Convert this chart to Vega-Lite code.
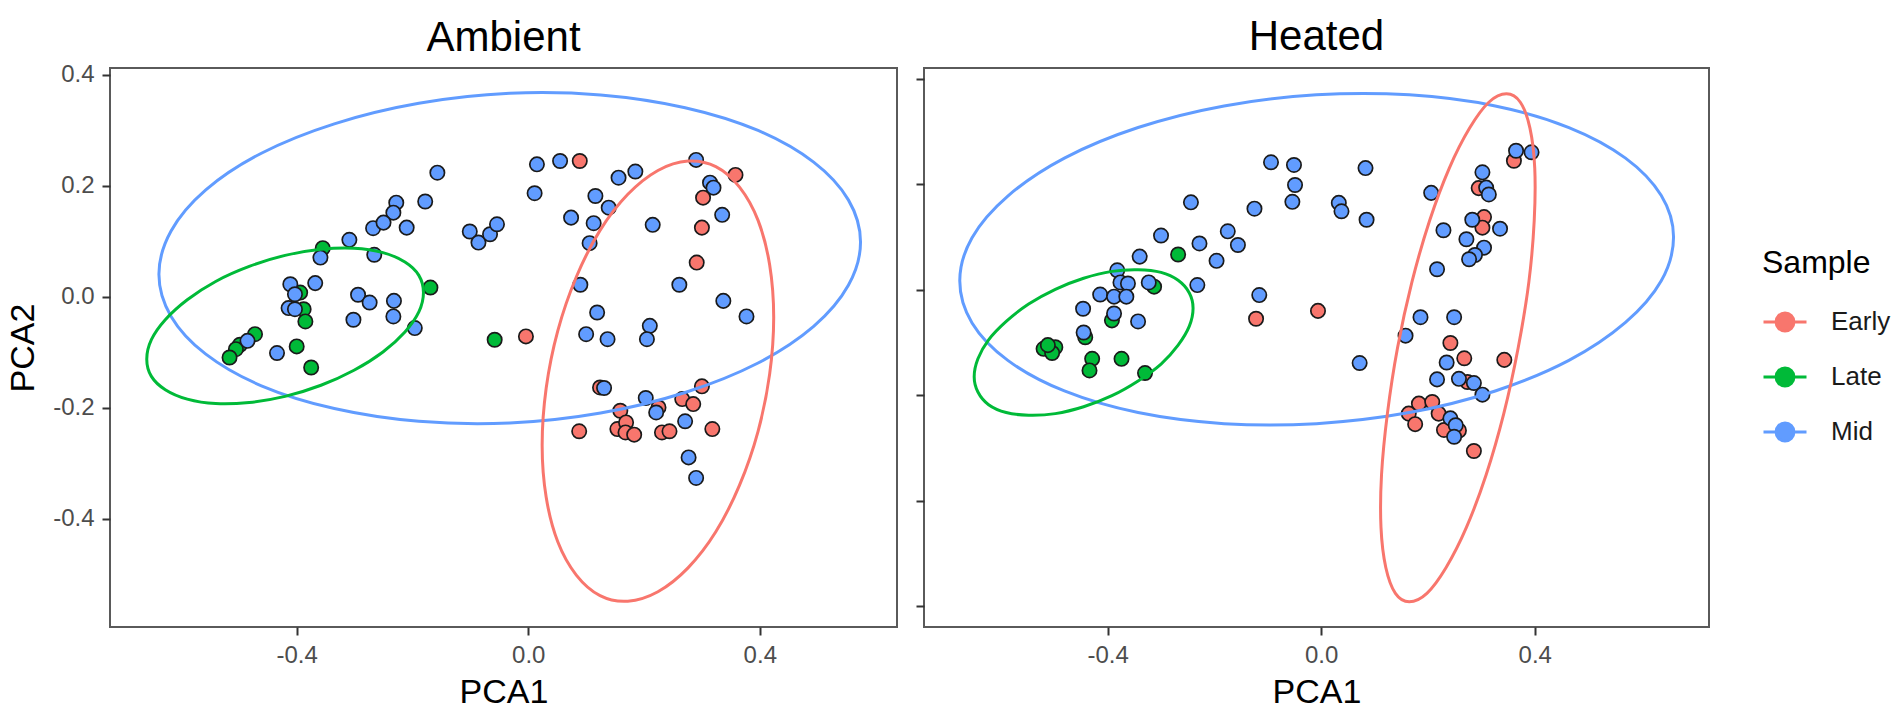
{
  "$schema": "https://vega.github.io/schema/vega-lite/v6.json",
  "padding": {"left": 5, "top": 15, "right": 5, "bottom": 0},
  "spacing": 16,
  "config": {
    "font": "Liberation Sans",
    "view": {"stroke": "#5a5a5a", "strokeWidth": 2},
    "axis": {
      "grid": false, "domain": false,
      "tickColor": "#333333", "tickWidth": 2, "tickSize": 8,
      "labelFont": "Liberation Sans", "labelFontSize": 24, "labelColor": "#4d4d4d", "labelPadding": 8,
      "titleFont": "Liberation Sans", "titleFontSize": 34, "titleFontWeight": "normal", "titleColor": "#000000"
    },
    "title": {"font": "Liberation Sans", "fontSize": 42, "fontWeight": "normal", "color": "#000000", "anchor": "middle", "baseline": "alphabetic", "frame": "group"}
  },
  "datasets": {
    "pts": [
      {"cond": "Ambient", "Sample": "Early", "PCA1": 0.089, "PCA2": 0.245},
      {"cond": "Ambient", "Sample": "Early", "PCA1": 0.358, "PCA2": 0.220},
      {"cond": "Ambient", "Sample": "Early", "PCA1": 0.302, "PCA2": 0.179},
      {"cond": "Ambient", "Sample": "Early", "PCA1": 0.300, "PCA2": 0.125},
      {"cond": "Ambient", "Sample": "Early", "PCA1": 0.291, "PCA2": 0.062},
      {"cond": "Ambient", "Sample": "Early", "PCA1": -0.004, "PCA2": -0.071},
      {"cond": "Ambient", "Sample": "Early", "PCA1": 0.124, "PCA2": -0.163},
      {"cond": "Ambient", "Sample": "Early", "PCA1": 0.225, "PCA2": -0.199},
      {"cond": "Ambient", "Sample": "Early", "PCA1": 0.159, "PCA2": -0.205},
      {"cond": "Ambient", "Sample": "Early", "PCA1": 0.266, "PCA2": -0.184},
      {"cond": "Ambient", "Sample": "Early", "PCA1": 0.285, "PCA2": -0.193},
      {"cond": "Ambient", "Sample": "Early", "PCA1": 0.300, "PCA2": -0.161},
      {"cond": "Ambient", "Sample": "Early", "PCA1": 0.088, "PCA2": -0.242},
      {"cond": "Ambient", "Sample": "Early", "PCA1": 0.154, "PCA2": -0.238},
      {"cond": "Ambient", "Sample": "Early", "PCA1": 0.169, "PCA2": -0.226},
      {"cond": "Ambient", "Sample": "Early", "PCA1": 0.168, "PCA2": -0.244},
      {"cond": "Ambient", "Sample": "Early", "PCA1": 0.183, "PCA2": -0.248},
      {"cond": "Ambient", "Sample": "Early", "PCA1": 0.231, "PCA2": -0.244},
      {"cond": "Ambient", "Sample": "Early", "PCA1": 0.244, "PCA2": -0.242},
      {"cond": "Ambient", "Sample": "Early", "PCA1": 0.318, "PCA2": -0.238},
      {"cond": "Ambient", "Sample": "Late", "PCA1": -0.355, "PCA2": 0.088},
      {"cond": "Ambient", "Sample": "Late", "PCA1": -0.394, "PCA2": 0.008},
      {"cond": "Ambient", "Sample": "Late", "PCA1": -0.388, "PCA2": -0.022},
      {"cond": "Ambient", "Sample": "Late", "PCA1": -0.385, "PCA2": -0.044},
      {"cond": "Ambient", "Sample": "Late", "PCA1": -0.472, "PCA2": -0.067},
      {"cond": "Ambient", "Sample": "Late", "PCA1": -0.498, "PCA2": -0.086},
      {"cond": "Ambient", "Sample": "Late", "PCA1": -0.505, "PCA2": -0.094},
      {"cond": "Ambient", "Sample": "Late", "PCA1": -0.516, "PCA2": -0.109},
      {"cond": "Ambient", "Sample": "Late", "PCA1": -0.400, "PCA2": -0.089},
      {"cond": "Ambient", "Sample": "Late", "PCA1": -0.375, "PCA2": -0.127},
      {"cond": "Ambient", "Sample": "Late", "PCA1": -0.169, "PCA2": 0.017},
      {"cond": "Ambient", "Sample": "Late", "PCA1": -0.058, "PCA2": -0.077},
      {"cond": "Ambient", "Sample": "Mid", "PCA1": -0.359, "PCA2": 0.071},
      {"cond": "Ambient", "Sample": "Mid", "PCA1": -0.309, "PCA2": 0.103},
      {"cond": "Ambient", "Sample": "Mid", "PCA1": -0.268, "PCA2": 0.124},
      {"cond": "Ambient", "Sample": "Mid", "PCA1": -0.266, "PCA2": 0.076},
      {"cond": "Ambient", "Sample": "Mid", "PCA1": -0.411, "PCA2": 0.023},
      {"cond": "Ambient", "Sample": "Mid", "PCA1": -0.368, "PCA2": 0.025},
      {"cond": "Ambient", "Sample": "Mid", "PCA1": -0.294, "PCA2": 0.004},
      {"cond": "Ambient", "Sample": "Mid", "PCA1": -0.403, "PCA2": 0.005},
      {"cond": "Ambient", "Sample": "Mid", "PCA1": -0.274, "PCA2": -0.010},
      {"cond": "Ambient", "Sample": "Mid", "PCA1": -0.414, "PCA2": -0.020},
      {"cond": "Ambient", "Sample": "Mid", "PCA1": -0.403, "PCA2": -0.022},
      {"cond": "Ambient", "Sample": "Mid", "PCA1": -0.302, "PCA2": -0.041},
      {"cond": "Ambient", "Sample": "Mid", "PCA1": -0.485, "PCA2": -0.079},
      {"cond": "Ambient", "Sample": "Mid", "PCA1": -0.434, "PCA2": -0.101},
      {"cond": "Ambient", "Sample": "Mid", "PCA1": -0.157, "PCA2": 0.224},
      {"cond": "Ambient", "Sample": "Mid", "PCA1": -0.228, "PCA2": 0.170},
      {"cond": "Ambient", "Sample": "Mid", "PCA1": -0.233, "PCA2": 0.152},
      {"cond": "Ambient", "Sample": "Mid", "PCA1": -0.250, "PCA2": 0.134},
      {"cond": "Ambient", "Sample": "Mid", "PCA1": -0.178, "PCA2": 0.172},
      {"cond": "Ambient", "Sample": "Mid", "PCA1": -0.210, "PCA2": 0.125},
      {"cond": "Ambient", "Sample": "Mid", "PCA1": -0.101, "PCA2": 0.118},
      {"cond": "Ambient", "Sample": "Mid", "PCA1": -0.086, "PCA2": 0.098},
      {"cond": "Ambient", "Sample": "Mid", "PCA1": -0.066, "PCA2": 0.113},
      {"cond": "Ambient", "Sample": "Mid", "PCA1": -0.054, "PCA2": 0.131},
      {"cond": "Ambient", "Sample": "Mid", "PCA1": 0.015, "PCA2": 0.239},
      {"cond": "Ambient", "Sample": "Mid", "PCA1": 0.055, "PCA2": 0.245},
      {"cond": "Ambient", "Sample": "Mid", "PCA1": 0.011, "PCA2": 0.187},
      {"cond": "Ambient", "Sample": "Mid", "PCA1": 0.156, "PCA2": 0.215},
      {"cond": "Ambient", "Sample": "Mid", "PCA1": 0.185, "PCA2": 0.226},
      {"cond": "Ambient", "Sample": "Mid", "PCA1": 0.116, "PCA2": 0.182},
      {"cond": "Ambient", "Sample": "Mid", "PCA1": 0.139, "PCA2": 0.161},
      {"cond": "Ambient", "Sample": "Mid", "PCA1": 0.074, "PCA2": 0.143},
      {"cond": "Ambient", "Sample": "Mid", "PCA1": 0.113, "PCA2": 0.133},
      {"cond": "Ambient", "Sample": "Mid", "PCA1": 0.106, "PCA2": 0.097},
      {"cond": "Ambient", "Sample": "Mid", "PCA1": 0.290, "PCA2": 0.247},
      {"cond": "Ambient", "Sample": "Mid", "PCA1": 0.314, "PCA2": 0.206},
      {"cond": "Ambient", "Sample": "Mid", "PCA1": 0.320, "PCA2": 0.197},
      {"cond": "Ambient", "Sample": "Mid", "PCA1": 0.335, "PCA2": 0.148},
      {"cond": "Ambient", "Sample": "Mid", "PCA1": 0.215, "PCA2": 0.130},
      {"cond": "Ambient", "Sample": "Mid", "PCA1": 0.261, "PCA2": 0.022},
      {"cond": "Ambient", "Sample": "Mid", "PCA1": 0.090, "PCA2": 0.022},
      {"cond": "Ambient", "Sample": "Mid", "PCA1": 0.337, "PCA2": -0.007},
      {"cond": "Ambient", "Sample": "Mid", "PCA1": 0.377, "PCA2": -0.035},
      {"cond": "Ambient", "Sample": "Mid", "PCA1": 0.119, "PCA2": -0.028},
      {"cond": "Ambient", "Sample": "Mid", "PCA1": -0.232, "PCA2": -0.007},
      {"cond": "Ambient", "Sample": "Mid", "PCA1": -0.233, "PCA2": -0.035},
      {"cond": "Ambient", "Sample": "Mid", "PCA1": -0.196, "PCA2": -0.056},
      {"cond": "Ambient", "Sample": "Mid", "PCA1": 0.210, "PCA2": -0.052},
      {"cond": "Ambient", "Sample": "Mid", "PCA1": 0.100, "PCA2": -0.067},
      {"cond": "Ambient", "Sample": "Mid", "PCA1": 0.137, "PCA2": -0.076},
      {"cond": "Ambient", "Sample": "Mid", "PCA1": 0.205, "PCA2": -0.076},
      {"cond": "Ambient", "Sample": "Mid", "PCA1": 0.131, "PCA2": -0.164},
      {"cond": "Ambient", "Sample": "Mid", "PCA1": 0.203, "PCA2": -0.182},
      {"cond": "Ambient", "Sample": "Mid", "PCA1": 0.221, "PCA2": -0.208},
      {"cond": "Ambient", "Sample": "Mid", "PCA1": 0.271, "PCA2": -0.224},
      {"cond": "Ambient", "Sample": "Mid", "PCA1": 0.277, "PCA2": -0.289},
      {"cond": "Ambient", "Sample": "Mid", "PCA1": 0.290, "PCA2": -0.326},
      {"cond": "Heated", "Sample": "Early", "PCA1": -0.122, "PCA2": -0.055},
      {"cond": "Heated", "Sample": "Early", "PCA1": -0.006, "PCA2": -0.040},
      {"cond": "Heated", "Sample": "Early", "PCA1": 0.361, "PCA2": 0.245},
      {"cond": "Heated", "Sample": "Early", "PCA1": 0.295, "PCA2": 0.193},
      {"cond": "Heated", "Sample": "Early", "PCA1": 0.305, "PCA2": 0.138},
      {"cond": "Heated", "Sample": "Early", "PCA1": 0.302, "PCA2": 0.118},
      {"cond": "Heated", "Sample": "Early", "PCA1": 0.242, "PCA2": -0.101},
      {"cond": "Heated", "Sample": "Early", "PCA1": 0.268, "PCA2": -0.130},
      {"cond": "Heated", "Sample": "Early", "PCA1": 0.343, "PCA2": -0.133},
      {"cond": "Heated", "Sample": "Early", "PCA1": 0.274, "PCA2": -0.175},
      {"cond": "Heated", "Sample": "Early", "PCA1": 0.183, "PCA2": -0.216},
      {"cond": "Heated", "Sample": "Early", "PCA1": 0.208, "PCA2": -0.213},
      {"cond": "Heated", "Sample": "Early", "PCA1": 0.164, "PCA2": -0.235},
      {"cond": "Heated", "Sample": "Early", "PCA1": 0.176, "PCA2": -0.255},
      {"cond": "Heated", "Sample": "Early", "PCA1": 0.220, "PCA2": -0.235},
      {"cond": "Heated", "Sample": "Early", "PCA1": 0.230, "PCA2": -0.266},
      {"cond": "Heated", "Sample": "Early", "PCA1": 0.258, "PCA2": -0.267},
      {"cond": "Heated", "Sample": "Early", "PCA1": 0.286, "PCA2": -0.306},
      {"cond": "Heated", "Sample": "Late", "PCA1": -0.268, "PCA2": 0.067},
      {"cond": "Heated", "Sample": "Late", "PCA1": -0.313, "PCA2": 0.006},
      {"cond": "Heated", "Sample": "Late", "PCA1": -0.392, "PCA2": -0.058},
      {"cond": "Heated", "Sample": "Late", "PCA1": -0.442, "PCA2": -0.090},
      {"cond": "Heated", "Sample": "Late", "PCA1": -0.520, "PCA2": -0.112},
      {"cond": "Heated", "Sample": "Late", "PCA1": -0.498, "PCA2": -0.109},
      {"cond": "Heated", "Sample": "Late", "PCA1": -0.504, "PCA2": -0.120},
      {"cond": "Heated", "Sample": "Late", "PCA1": -0.512, "PCA2": -0.105},
      {"cond": "Heated", "Sample": "Late", "PCA1": -0.429, "PCA2": -0.131},
      {"cond": "Heated", "Sample": "Late", "PCA1": -0.434, "PCA2": -0.153},
      {"cond": "Heated", "Sample": "Late", "PCA1": -0.374, "PCA2": -0.131},
      {"cond": "Heated", "Sample": "Late", "PCA1": -0.330, "PCA2": -0.158},
      {"cond": "Heated", "Sample": "Mid", "PCA1": -0.094, "PCA2": 0.242},
      {"cond": "Heated", "Sample": "Mid", "PCA1": -0.051, "PCA2": 0.237},
      {"cond": "Heated", "Sample": "Mid", "PCA1": -0.049, "PCA2": 0.199},
      {"cond": "Heated", "Sample": "Mid", "PCA1": -0.054, "PCA2": 0.167},
      {"cond": "Heated", "Sample": "Mid", "PCA1": -0.244, "PCA2": 0.166},
      {"cond": "Heated", "Sample": "Mid", "PCA1": -0.125, "PCA2": 0.154},
      {"cond": "Heated", "Sample": "Mid", "PCA1": -0.300, "PCA2": 0.103},
      {"cond": "Heated", "Sample": "Mid", "PCA1": -0.175, "PCA2": 0.111},
      {"cond": "Heated", "Sample": "Mid", "PCA1": -0.228, "PCA2": 0.088},
      {"cond": "Heated", "Sample": "Mid", "PCA1": -0.156, "PCA2": 0.085},
      {"cond": "Heated", "Sample": "Mid", "PCA1": -0.340, "PCA2": 0.063},
      {"cond": "Heated", "Sample": "Mid", "PCA1": -0.196, "PCA2": 0.055},
      {"cond": "Heated", "Sample": "Mid", "PCA1": -0.382, "PCA2": 0.037},
      {"cond": "Heated", "Sample": "Mid", "PCA1": -0.376, "PCA2": 0.014},
      {"cond": "Heated", "Sample": "Mid", "PCA1": -0.362, "PCA2": 0.012},
      {"cond": "Heated", "Sample": "Mid", "PCA1": -0.323, "PCA2": 0.014},
      {"cond": "Heated", "Sample": "Mid", "PCA1": -0.232, "PCA2": 0.009},
      {"cond": "Heated", "Sample": "Mid", "PCA1": -0.414, "PCA2": -0.009},
      {"cond": "Heated", "Sample": "Mid", "PCA1": -0.388, "PCA2": -0.013},
      {"cond": "Heated", "Sample": "Mid", "PCA1": -0.365, "PCA2": -0.013},
      {"cond": "Heated", "Sample": "Mid", "PCA1": -0.446, "PCA2": -0.036},
      {"cond": "Heated", "Sample": "Mid", "PCA1": -0.388, "PCA2": -0.045},
      {"cond": "Heated", "Sample": "Mid", "PCA1": -0.343, "PCA2": -0.060},
      {"cond": "Heated", "Sample": "Mid", "PCA1": -0.445, "PCA2": -0.081},
      {"cond": "Heated", "Sample": "Mid", "PCA1": -0.116, "PCA2": -0.010},
      {"cond": "Heated", "Sample": "Mid", "PCA1": 0.083, "PCA2": 0.231},
      {"cond": "Heated", "Sample": "Mid", "PCA1": 0.206, "PCA2": 0.184},
      {"cond": "Heated", "Sample": "Mid", "PCA1": 0.033, "PCA2": 0.165},
      {"cond": "Heated", "Sample": "Mid", "PCA1": 0.038, "PCA2": 0.149},
      {"cond": "Heated", "Sample": "Mid", "PCA1": 0.085, "PCA2": 0.133},
      {"cond": "Heated", "Sample": "Mid", "PCA1": 0.365, "PCA2": 0.264},
      {"cond": "Heated", "Sample": "Mid", "PCA1": 0.394, "PCA2": 0.261},
      {"cond": "Heated", "Sample": "Mid", "PCA1": 0.302, "PCA2": 0.223},
      {"cond": "Heated", "Sample": "Mid", "PCA1": 0.309, "PCA2": 0.194},
      {"cond": "Heated", "Sample": "Mid", "PCA1": 0.314, "PCA2": 0.181},
      {"cond": "Heated", "Sample": "Mid", "PCA1": 0.283, "PCA2": 0.133},
      {"cond": "Heated", "Sample": "Mid", "PCA1": 0.335, "PCA2": 0.116},
      {"cond": "Heated", "Sample": "Mid", "PCA1": 0.229, "PCA2": 0.113},
      {"cond": "Heated", "Sample": "Mid", "PCA1": 0.272, "PCA2": 0.096},
      {"cond": "Heated", "Sample": "Mid", "PCA1": 0.305, "PCA2": 0.080},
      {"cond": "Heated", "Sample": "Mid", "PCA1": 0.288, "PCA2": 0.066},
      {"cond": "Heated", "Sample": "Mid", "PCA1": 0.277, "PCA2": 0.058},
      {"cond": "Heated", "Sample": "Mid", "PCA1": 0.217, "PCA2": 0.039},
      {"cond": "Heated", "Sample": "Mid", "PCA1": 0.186, "PCA2": -0.052},
      {"cond": "Heated", "Sample": "Mid", "PCA1": 0.249, "PCA2": -0.052},
      {"cond": "Heated", "Sample": "Mid", "PCA1": 0.158, "PCA2": -0.087},
      {"cond": "Heated", "Sample": "Mid", "PCA1": 0.072, "PCA2": -0.139},
      {"cond": "Heated", "Sample": "Mid", "PCA1": 0.235, "PCA2": -0.138},
      {"cond": "Heated", "Sample": "Mid", "PCA1": 0.217, "PCA2": -0.170},
      {"cond": "Heated", "Sample": "Mid", "PCA1": 0.258, "PCA2": -0.169},
      {"cond": "Heated", "Sample": "Mid", "PCA1": 0.286, "PCA2": -0.177},
      {"cond": "Heated", "Sample": "Mid", "PCA1": 0.302, "PCA2": -0.199},
      {"cond": "Heated", "Sample": "Mid", "PCA1": 0.242, "PCA2": -0.244},
      {"cond": "Heated", "Sample": "Mid", "PCA1": 0.252, "PCA2": -0.257},
      {"cond": "Heated", "Sample": "Mid", "PCA1": 0.249, "PCA2": -0.279}
    ],
    "ell": [
      {"cond": "Ambient", "Sample": "Mid", "i": 0, "PCA1": 0.574, "PCA2": 0.099},
      {"cond": "Ambient", "Sample": "Mid", "i": 1, "PCA1": 0.553, "PCA2": 0.175},
      {"cond": "Ambient", "Sample": "Mid", "i": 2, "PCA1": 0.493, "PCA2": 0.243},
      {"cond": "Ambient", "Sample": "Mid", "i": 3, "PCA1": 0.397, "PCA2": 0.300},
      {"cond": "Ambient", "Sample": "Mid", "i": 4, "PCA1": 0.271, "PCA2": 0.341},
      {"cond": "Ambient", "Sample": "Mid", "i": 5, "PCA1": 0.125, "PCA2": 0.364},
      {"cond": "Ambient", "Sample": "Mid", "i": 6, "PCA1": -0.032, "PCA2": 0.367},
      {"cond": "Ambient", "Sample": "Mid", "i": 7, "PCA1": -0.189, "PCA2": 0.349},
      {"cond": "Ambient", "Sample": "Mid", "i": 8, "PCA1": -0.335, "PCA2": 0.312},
      {"cond": "Ambient", "Sample": "Mid", "i": 9, "PCA1": -0.461, "PCA2": 0.259},
      {"cond": "Ambient", "Sample": "Mid", "i": 10, "PCA1": -0.557, "PCA2": 0.193},
      {"cond": "Ambient", "Sample": "Mid", "i": 11, "PCA1": -0.617, "PCA2": 0.119},
      {"cond": "Ambient", "Sample": "Mid", "i": 12, "PCA1": -0.638, "PCA2": 0.041},
      {"cond": "Ambient", "Sample": "Mid", "i": 13, "PCA1": -0.617, "PCA2": -0.035},
      {"cond": "Ambient", "Sample": "Mid", "i": 14, "PCA1": -0.557, "PCA2": -0.103},
      {"cond": "Ambient", "Sample": "Mid", "i": 15, "PCA1": -0.461, "PCA2": -0.160},
      {"cond": "Ambient", "Sample": "Mid", "i": 16, "PCA1": -0.335, "PCA2": -0.201},
      {"cond": "Ambient", "Sample": "Mid", "i": 17, "PCA1": -0.189, "PCA2": -0.224},
      {"cond": "Ambient", "Sample": "Mid", "i": 18, "PCA1": -0.032, "PCA2": -0.227},
      {"cond": "Ambient", "Sample": "Mid", "i": 19, "PCA1": 0.125, "PCA2": -0.209},
      {"cond": "Ambient", "Sample": "Mid", "i": 20, "PCA1": 0.271, "PCA2": -0.172},
      {"cond": "Ambient", "Sample": "Mid", "i": 21, "PCA1": 0.397, "PCA2": -0.119},
      {"cond": "Ambient", "Sample": "Mid", "i": 22, "PCA1": 0.493, "PCA2": -0.053},
      {"cond": "Ambient", "Sample": "Mid", "i": 23, "PCA1": 0.553, "PCA2": 0.021},
      {"cond": "Ambient", "Sample": "Late", "i": 0, "PCA1": -0.181, "PCA2": 0.008},
      {"cond": "Ambient", "Sample": "Late", "i": 1, "PCA1": -0.189, "PCA2": 0.039},
      {"cond": "Ambient", "Sample": "Late", "i": 2, "PCA1": -0.213, "PCA2": 0.063},
      {"cond": "Ambient", "Sample": "Late", "i": 3, "PCA1": -0.251, "PCA2": 0.080},
      {"cond": "Ambient", "Sample": "Late", "i": 4, "PCA1": -0.301, "PCA2": 0.088},
      {"cond": "Ambient", "Sample": "Late", "i": 5, "PCA1": -0.358, "PCA2": 0.086},
      {"cond": "Ambient", "Sample": "Late", "i": 6, "PCA1": -0.420, "PCA2": 0.075},
      {"cond": "Ambient", "Sample": "Late", "i": 7, "PCA1": -0.482, "PCA2": 0.055},
      {"cond": "Ambient", "Sample": "Late", "i": 8, "PCA1": -0.540, "PCA2": 0.028},
      {"cond": "Ambient", "Sample": "Late", "i": 9, "PCA1": -0.589, "PCA2": -0.005},
      {"cond": "Ambient", "Sample": "Late", "i": 10, "PCA1": -0.627, "PCA2": -0.041},
      {"cond": "Ambient", "Sample": "Late", "i": 11, "PCA1": -0.651, "PCA2": -0.077},
      {"cond": "Ambient", "Sample": "Late", "i": 12, "PCA1": -0.659, "PCA2": -0.112},
      {"cond": "Ambient", "Sample": "Late", "i": 13, "PCA1": -0.651, "PCA2": -0.143},
      {"cond": "Ambient", "Sample": "Late", "i": 14, "PCA1": -0.627, "PCA2": -0.167},
      {"cond": "Ambient", "Sample": "Late", "i": 15, "PCA1": -0.589, "PCA2": -0.184},
      {"cond": "Ambient", "Sample": "Late", "i": 16, "PCA1": -0.540, "PCA2": -0.192},
      {"cond": "Ambient", "Sample": "Late", "i": 17, "PCA1": -0.482, "PCA2": -0.190},
      {"cond": "Ambient", "Sample": "Late", "i": 18, "PCA1": -0.420, "PCA2": -0.179},
      {"cond": "Ambient", "Sample": "Late", "i": 19, "PCA1": -0.358, "PCA2": -0.159},
      {"cond": "Ambient", "Sample": "Late", "i": 20, "PCA1": -0.301, "PCA2": -0.132},
      {"cond": "Ambient", "Sample": "Late", "i": 21, "PCA1": -0.251, "PCA2": -0.099},
      {"cond": "Ambient", "Sample": "Late", "i": 22, "PCA1": -0.213, "PCA2": -0.063},
      {"cond": "Ambient", "Sample": "Late", "i": 23, "PCA1": -0.189, "PCA2": -0.027},
      {"cond": "Ambient", "Sample": "Early", "i": 0, "PCA1": 0.424, "PCA2": -0.037},
      {"cond": "Ambient", "Sample": "Early", "i": 1, "PCA1": 0.417, "PCA2": 0.058},
      {"cond": "Ambient", "Sample": "Early", "i": 2, "PCA1": 0.397, "PCA2": 0.138},
      {"cond": "Ambient", "Sample": "Early", "i": 3, "PCA1": 0.365, "PCA2": 0.198},
      {"cond": "Ambient", "Sample": "Early", "i": 4, "PCA1": 0.324, "PCA2": 0.235},
      {"cond": "Ambient", "Sample": "Early", "i": 5, "PCA1": 0.276, "PCA2": 0.245},
      {"cond": "Ambient", "Sample": "Early", "i": 6, "PCA1": 0.224, "PCA2": 0.228},
      {"cond": "Ambient", "Sample": "Early", "i": 7, "PCA1": 0.172, "PCA2": 0.185},
      {"cond": "Ambient", "Sample": "Early", "i": 8, "PCA1": 0.124, "PCA2": 0.120},
      {"cond": "Ambient", "Sample": "Early", "i": 9, "PCA1": 0.083, "PCA2": 0.036},
      {"cond": "Ambient", "Sample": "Early", "i": 10, "PCA1": 0.051, "PCA2": -0.061},
      {"cond": "Ambient", "Sample": "Early", "i": 11, "PCA1": 0.031, "PCA2": -0.164},
      {"cond": "Ambient", "Sample": "Early", "i": 12, "PCA1": 0.024, "PCA2": -0.267},
      {"cond": "Ambient", "Sample": "Early", "i": 13, "PCA1": 0.031, "PCA2": -0.361},
      {"cond": "Ambient", "Sample": "Early", "i": 14, "PCA1": 0.051, "PCA2": -0.441},
      {"cond": "Ambient", "Sample": "Early", "i": 15, "PCA1": 0.083, "PCA2": -0.501},
      {"cond": "Ambient", "Sample": "Early", "i": 16, "PCA1": 0.124, "PCA2": -0.538},
      {"cond": "Ambient", "Sample": "Early", "i": 17, "PCA1": 0.172, "PCA2": -0.548},
      {"cond": "Ambient", "Sample": "Early", "i": 18, "PCA1": 0.224, "PCA2": -0.531},
      {"cond": "Ambient", "Sample": "Early", "i": 19, "PCA1": 0.276, "PCA2": -0.488},
      {"cond": "Ambient", "Sample": "Early", "i": 20, "PCA1": 0.324, "PCA2": -0.423},
      {"cond": "Ambient", "Sample": "Early", "i": 21, "PCA1": 0.365, "PCA2": -0.339},
      {"cond": "Ambient", "Sample": "Early", "i": 22, "PCA1": 0.397, "PCA2": -0.242},
      {"cond": "Ambient", "Sample": "Early", "i": 23, "PCA1": 0.417, "PCA2": -0.139},
      {"cond": "Heated", "Sample": "Mid", "i": 0, "PCA1": 0.660, "PCA2": 0.100},
      {"cond": "Heated", "Sample": "Mid", "i": 1, "PCA1": 0.637, "PCA2": 0.179},
      {"cond": "Heated", "Sample": "Mid", "i": 2, "PCA1": 0.570, "PCA2": 0.250},
      {"cond": "Heated", "Sample": "Mid", "i": 3, "PCA1": 0.464, "PCA2": 0.308},
      {"cond": "Heated", "Sample": "Mid", "i": 4, "PCA1": 0.326, "PCA2": 0.349},
      {"cond": "Heated", "Sample": "Mid", "i": 5, "PCA1": 0.165, "PCA2": 0.370},
      {"cond": "Heated", "Sample": "Mid", "i": 6, "PCA1": -0.009, "PCA2": 0.370},
      {"cond": "Heated", "Sample": "Mid", "i": 7, "PCA1": -0.182, "PCA2": 0.349},
      {"cond": "Heated", "Sample": "Mid", "i": 8, "PCA1": -0.343, "PCA2": 0.308},
      {"cond": "Heated", "Sample": "Mid", "i": 9, "PCA1": -0.481, "PCA2": 0.250},
      {"cond": "Heated", "Sample": "Mid", "i": 10, "PCA1": -0.587, "PCA2": 0.178},
      {"cond": "Heated", "Sample": "Mid", "i": 11, "PCA1": -0.654, "PCA2": 0.099},
      {"cond": "Heated", "Sample": "Mid", "i": 12, "PCA1": -0.677, "PCA2": 0.017},
      {"cond": "Heated", "Sample": "Mid", "i": 13, "PCA1": -0.654, "PCA2": -0.063},
      {"cond": "Heated", "Sample": "Mid", "i": 14, "PCA1": -0.587, "PCA2": -0.134},
      {"cond": "Heated", "Sample": "Mid", "i": 15, "PCA1": -0.481, "PCA2": -0.192},
      {"cond": "Heated", "Sample": "Mid", "i": 16, "PCA1": -0.343, "PCA2": -0.233},
      {"cond": "Heated", "Sample": "Mid", "i": 17, "PCA1": -0.182, "PCA2": -0.254},
      {"cond": "Heated", "Sample": "Mid", "i": 18, "PCA1": -0.009, "PCA2": -0.254},
      {"cond": "Heated", "Sample": "Mid", "i": 19, "PCA1": 0.165, "PCA2": -0.233},
      {"cond": "Heated", "Sample": "Mid", "i": 20, "PCA1": 0.326, "PCA2": -0.192},
      {"cond": "Heated", "Sample": "Mid", "i": 21, "PCA1": 0.464, "PCA2": -0.134},
      {"cond": "Heated", "Sample": "Mid", "i": 22, "PCA1": 0.570, "PCA2": -0.062},
      {"cond": "Heated", "Sample": "Mid", "i": 23, "PCA1": 0.637, "PCA2": 0.017},
      {"cond": "Heated", "Sample": "Late", "i": 0, "PCA1": -0.240, "PCA2": -0.035},
      {"cond": "Heated", "Sample": "Late", "i": 1, "PCA1": -0.247, "PCA2": -0.006},
      {"cond": "Heated", "Sample": "Late", "i": 2, "PCA1": -0.268, "PCA2": 0.018},
      {"cond": "Heated", "Sample": "Late", "i": 3, "PCA1": -0.300, "PCA2": 0.033},
      {"cond": "Heated", "Sample": "Late", "i": 4, "PCA1": -0.343, "PCA2": 0.038},
      {"cond": "Heated", "Sample": "Late", "i": 5, "PCA1": -0.392, "PCA2": 0.035},
      {"cond": "Heated", "Sample": "Late", "i": 6, "PCA1": -0.445, "PCA2": 0.022},
      {"cond": "Heated", "Sample": "Late", "i": 7, "PCA1": -0.498, "PCA2": 0.001},
      {"cond": "Heated", "Sample": "Late", "i": 8, "PCA1": -0.548, "PCA2": -0.027},
      {"cond": "Heated", "Sample": "Late", "i": 9, "PCA1": -0.590, "PCA2": -0.060},
      {"cond": "Heated", "Sample": "Late", "i": 10, "PCA1": -0.623, "PCA2": -0.095},
      {"cond": "Heated", "Sample": "Late", "i": 11, "PCA1": -0.643, "PCA2": -0.131},
      {"cond": "Heated", "Sample": "Late", "i": 12, "PCA1": -0.650, "PCA2": -0.165},
      {"cond": "Heated", "Sample": "Late", "i": 13, "PCA1": -0.643, "PCA2": -0.194},
      {"cond": "Heated", "Sample": "Late", "i": 14, "PCA1": -0.623, "PCA2": -0.218},
      {"cond": "Heated", "Sample": "Late", "i": 15, "PCA1": -0.590, "PCA2": -0.233},
      {"cond": "Heated", "Sample": "Late", "i": 16, "PCA1": -0.548, "PCA2": -0.238},
      {"cond": "Heated", "Sample": "Late", "i": 17, "PCA1": -0.498, "PCA2": -0.235},
      {"cond": "Heated", "Sample": "Late", "i": 18, "PCA1": -0.445, "PCA2": -0.222},
      {"cond": "Heated", "Sample": "Late", "i": 19, "PCA1": -0.392, "PCA2": -0.201},
      {"cond": "Heated", "Sample": "Late", "i": 20, "PCA1": -0.343, "PCA2": -0.173},
      {"cond": "Heated", "Sample": "Late", "i": 21, "PCA1": -0.300, "PCA2": -0.141},
      {"cond": "Heated", "Sample": "Late", "i": 22, "PCA1": -0.268, "PCA2": -0.105},
      {"cond": "Heated", "Sample": "Late", "i": 23, "PCA1": -0.247, "PCA2": -0.069},
      {"cond": "Heated", "Sample": "Early", "i": 0, "PCA1": 0.347, "PCA2": 0.372},
      {"cond": "Heated", "Sample": "Early", "i": 1, "PCA1": 0.373, "PCA2": 0.356},
      {"cond": "Heated", "Sample": "Early", "i": 2, "PCA1": 0.391, "PCA2": 0.307},
      {"cond": "Heated", "Sample": "Early", "i": 3, "PCA1": 0.400, "PCA2": 0.231},
      {"cond": "Heated", "Sample": "Early", "i": 4, "PCA1": 0.399, "PCA2": 0.131},
      {"cond": "Heated", "Sample": "Early", "i": 5, "PCA1": 0.389, "PCA2": 0.015},
      {"cond": "Heated", "Sample": "Early", "i": 6, "PCA1": 0.369, "PCA2": -0.110},
      {"cond": "Heated", "Sample": "Early", "i": 7, "PCA1": 0.342, "PCA2": -0.235},
      {"cond": "Heated", "Sample": "Early", "i": 8, "PCA1": 0.309, "PCA2": -0.351},
      {"cond": "Heated", "Sample": "Early", "i": 9, "PCA1": 0.272, "PCA2": -0.451},
      {"cond": "Heated", "Sample": "Early", "i": 10, "PCA1": 0.234, "PCA2": -0.527},
      {"cond": "Heated", "Sample": "Early", "i": 11, "PCA1": 0.198, "PCA2": -0.576},
      {"cond": "Heated", "Sample": "Early", "i": 12, "PCA1": 0.165, "PCA2": -0.592},
      {"cond": "Heated", "Sample": "Early", "i": 13, "PCA1": 0.139, "PCA2": -0.576},
      {"cond": "Heated", "Sample": "Early", "i": 14, "PCA1": 0.121, "PCA2": -0.527},
      {"cond": "Heated", "Sample": "Early", "i": 15, "PCA1": 0.112, "PCA2": -0.451},
      {"cond": "Heated", "Sample": "Early", "i": 16, "PCA1": 0.113, "PCA2": -0.351},
      {"cond": "Heated", "Sample": "Early", "i": 17, "PCA1": 0.124, "PCA2": -0.235},
      {"cond": "Heated", "Sample": "Early", "i": 18, "PCA1": 0.143, "PCA2": -0.110},
      {"cond": "Heated", "Sample": "Early", "i": 19, "PCA1": 0.170, "PCA2": 0.015},
      {"cond": "Heated", "Sample": "Early", "i": 20, "PCA1": 0.203, "PCA2": 0.131},
      {"cond": "Heated", "Sample": "Early", "i": 21, "PCA1": 0.240, "PCA2": 0.231},
      {"cond": "Heated", "Sample": "Early", "i": 22, "PCA1": 0.278, "PCA2": 0.307},
      {"cond": "Heated", "Sample": "Early", "i": 23, "PCA1": 0.314, "PCA2": 0.356}
    ]
  },
  "hconcat": [
    {
      "title": {"text": "Ambient", "offset": 3},
      "width": 787,
      "height": 559,
      "layer": [
        {
          "data": {"name": "pts"},
          "transform": [{"filter": "datum.cond == 'Ambient'"}],
          "mark": {"type": "point", "filled": true, "size": 205, "stroke": "#1a1a1a", "strokeWidth": 1.7, "opacity": 1},
          "encoding": {
            "x": {"field": "PCA1", "type": "quantitative", "scale": {"domain": [-0.7225, 0.637], "nice": false, "zero": false},
                  "axis": {"title": "PCA1", "values": [-0.4, 0, 0.4], "labelExpr": "(datum.value < 0 ? '-' : '') + format(abs(datum.value), '.1f')", "titlePadding": 8}},
            "y": {"field": "PCA2", "type": "quantitative", "scale": {"domain": [-0.5946, 0.4126], "nice": false, "zero": false},
                  "axis": {"title": "PCA2", "values": [-0.4, -0.2, 0, 0.2, 0.4], "labelExpr": "(datum.value < 0 ? '-' : '') + format(abs(datum.value), '.1f')", "titlePadding": 12}},
            "color": {"field": "Sample", "type": "nominal", "scale": {"domain": ["Early", "Late", "Mid"], "range": ["#F8766D", "#00BA38", "#619CFF"]}}
          }
        },
        {
          "data": {"name": "ell"},
          "transform": [{"filter": "datum.cond == 'Ambient'"}],
          "mark": {"type": "line", "interpolate": "cardinal-closed", "strokeWidth": 3},
          "encoding": {
            "x": {"field": "PCA1", "type": "quantitative"},
            "y": {"field": "PCA2", "type": "quantitative"},
            "order": {"field": "i", "type": "quantitative"},
            "color": {"field": "Sample", "type": "nominal"}
          }
        }
      ]
    },
    {
      "title": {"text": "Heated", "offset": 9},
      "width": 785,
      "height": 559,
      "layer": [
        {
          "data": {"name": "pts"},
          "transform": [{"filter": "datum.cond == 'Heated'"}],
          "mark": {"type": "point", "filled": true, "size": 205, "stroke": "#1a1a1a", "strokeWidth": 1.7, "opacity": 1},
          "encoding": {
            "x": {"field": "PCA1", "type": "quantitative", "scale": {"domain": [-0.744, 0.7264], "nice": false, "zero": false},
                  "axis": {"title": "PCA1", "values": [-0.4, 0, 0.4], "labelExpr": "(datum.value < 0 ? '-' : '') + format(abs(datum.value), '.1f')", "titlePadding": 8}},
            "y": {"field": "PCA2", "type": "quantitative", "scale": {"domain": [-0.640, 0.421], "nice": false, "zero": false},
                  "axis": {"title": null, "values": [-0.6, -0.4, -0.2, 0, 0.2, 0.4], "labels": false}},
            "color": {"field": "Sample", "type": "nominal",
                      "legend": {"title": "Sample", "orient": "none", "legendX": 1652, "legendY": 180,
                                 "titleFontSize": 32, "titleFontWeight": "normal", "titleColor": "#000000", "titlePadding": 19,
                                 "labelFontSize": 26, "labelColor": "#1a1a1a", "labelOffset": 23, "rowPadding": 17,
                                 "symbolType": "M-1,0H-0.42M0.42,0H1M0.42,0A0.42,0.42,0,1,1,-0.42,0A0.42,0.42,0,1,1,0.42,0Z",
                                 "symbolSize": 1849, "symbolStrokeWidth": 2.8,
                                 "encode": {"symbols": {"update": {"fill": {"scale": "color", "field": "value"}, "stroke": {"scale": "color", "field": "value"}, "opacity": {"value": 1}}}}}}
          }
        },
        {
          "data": {"name": "ell"},
          "transform": [{"filter": "datum.cond == 'Heated'"}],
          "mark": {"type": "line", "interpolate": "cardinal-closed", "strokeWidth": 3},
          "encoding": {
            "x": {"field": "PCA1", "type": "quantitative"},
            "y": {"field": "PCA2", "type": "quantitative"},
            "order": {"field": "i", "type": "quantitative"},
            "color": {"field": "Sample", "type": "nominal"}
          }
        }
      ]
    }
  ]
}
